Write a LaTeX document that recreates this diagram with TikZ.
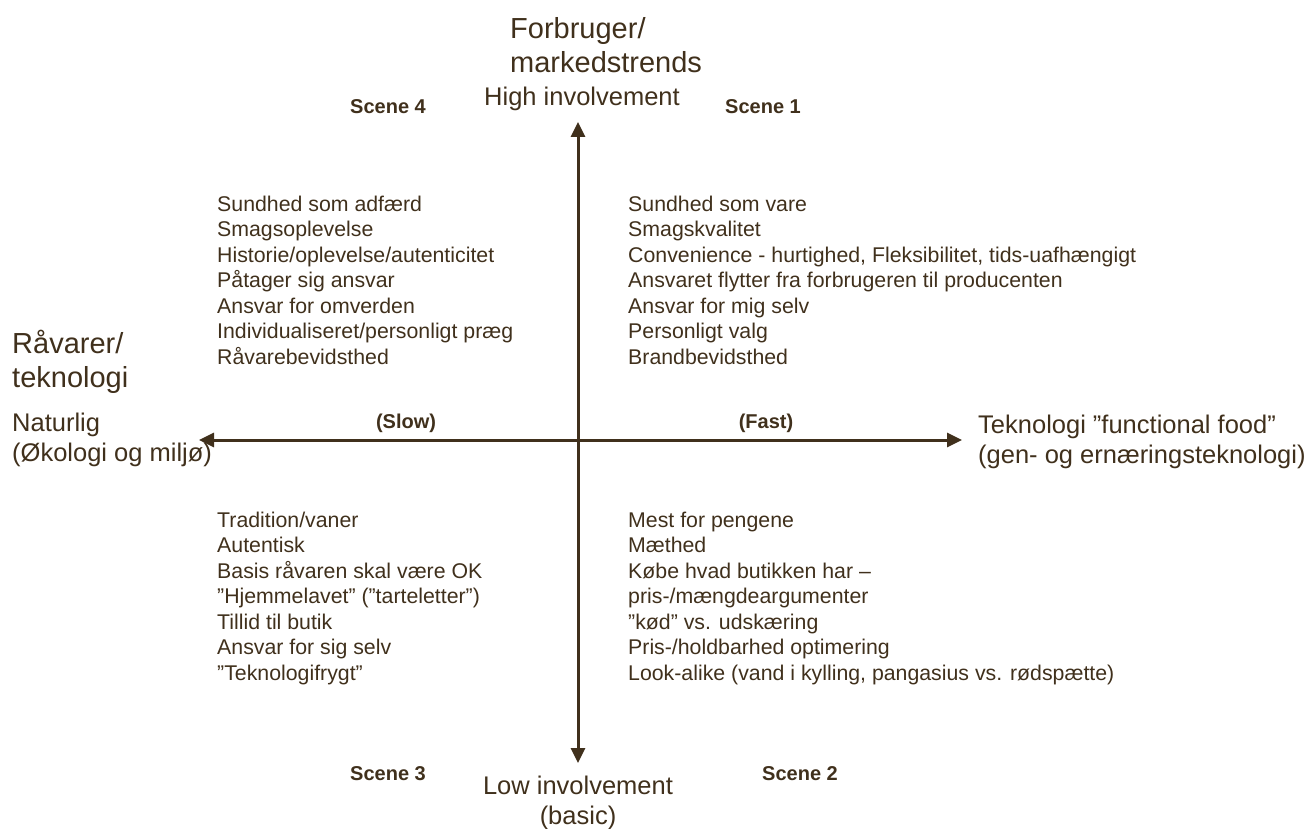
\documentclass[tikz,border=0pt]{standalone}
\usepackage{fontspec}
\setmainfont{Liberation Sans}
\usepackage{xcolor}
\usetikzlibrary{arrows.meta}
\definecolor{darkbrown}{RGB}{64,48,28}
\tikzset{
    axis-arrow/.style = {draw=darkbrown, line width=3pt, -{Triangle[length=15pt,width=14pt]}},
    item-list/.style = {text=darkbrown, anchor=base west, align=left, inner sep=0pt, font=\fontsize{21.3}{25.5}\selectfont},
    axis-label/.style = {text=darkbrown, anchor=base west, align=left, inner sep=0pt, font=\fontsize{25.5}{30}\selectfont},
    axis-title/.style = {text=darkbrown, anchor=base west, align=left, inner sep=0pt, font=\fontsize{29}{34}\selectfont},
    scene-label/.style = {text=darkbrown, anchor=base west, inner sep=0pt, font=\fontsize{20}{24}\selectfont\bfseries},
}
\begin{document}
\begin{tikzpicture}[x=1pt, y=-1pt]
\useasboundingbox (0,0) rectangle (1308,829);
% axes
\coordinate (centre) at (578,440);
\coordinate (top) at (578,122);
\coordinate (bottom) at (578,763);
\coordinate (left) at (199,440);
\coordinate (right) at (962,440);
\draw[axis-arrow] (centre) -- (top);
\draw[axis-arrow] (centre) -- (bottom);
\draw[axis-arrow] (centre) -- (left);
\draw[axis-arrow] (centre) -- (right);

% axis titles (anchored at the baseline of the last line)
\node[axis-title] (forbruger) at (510,73) {Forbruger/\\markedstrends};
\node[axis-title] (raavarer) at (12,387) {Råvarer/\\teknologi};
\node[axis-label] (high) at (484,106) {High involvement};
\node[axis-label, anchor=base, align=center] (low) at (578,824) {Low involvement\\(basic)};
\node[axis-label] (naturlig) at (12,461) {Naturlig\\(Økologi og miljø)};
\node[axis-label] (teknologi) at (978,463) {Teknologi ”functional food”\\(gen- og ernæringsteknologi)};

% speed and scenes
\node[scene-label, anchor=base] (slow) at (406,428) {(Slow)};
\node[scene-label, anchor=base] (fast) at (766,428) {(Fast)};
\node[scene-label] (scene4) at (350,114) {Scene 4};
\node[scene-label] (scene1) at (725,114) {Scene 1};
\node[scene-label] (scene3) at (350,780) {Scene 3};
\node[scene-label] (scene2) at (762,780) {Scene 2};

% quadrants
\node[item-list] (q4) at (217,364) {Sundhed som adfærd\\Smagsoplevelse\\Historie/oplevelse/autenticitet\\Påtager sig ansvar\\Ansvar for omverden\\Individualiseret/personligt præg\\Råvarebevidsthed};
\node[item-list] (q1) at (628,364) {Sundhed som vare\\Smagskvalitet\\Convenience - hurtighed, Fleksibilitet, tids-uafhængigt\\Ansvaret flytter fra forbrugeren til producenten\\Ansvar for mig selv\\Personligt valg\\Brandbevidsthed};
\node[item-list] (q3) at (217,680) {Tradition/vaner\\Autentisk\\Basis råvaren skal være OK\\”Hjemmelavet” (”tarteletter”)\\Tillid til butik\\Ansvar for sig selv\\”Teknologifrygt”};
\node[item-list] (q2) at (628,680) {Mest for pengene\\Mæthed\\Købe hvad butikken har –\\pris-/mængdeargumenter\\”kød” vs. udskæring\\Pris-/holdbarhed optimering\\Look-alike (vand i kylling, pangasius vs. rødspætte)};
\end{tikzpicture}
\end{document}
